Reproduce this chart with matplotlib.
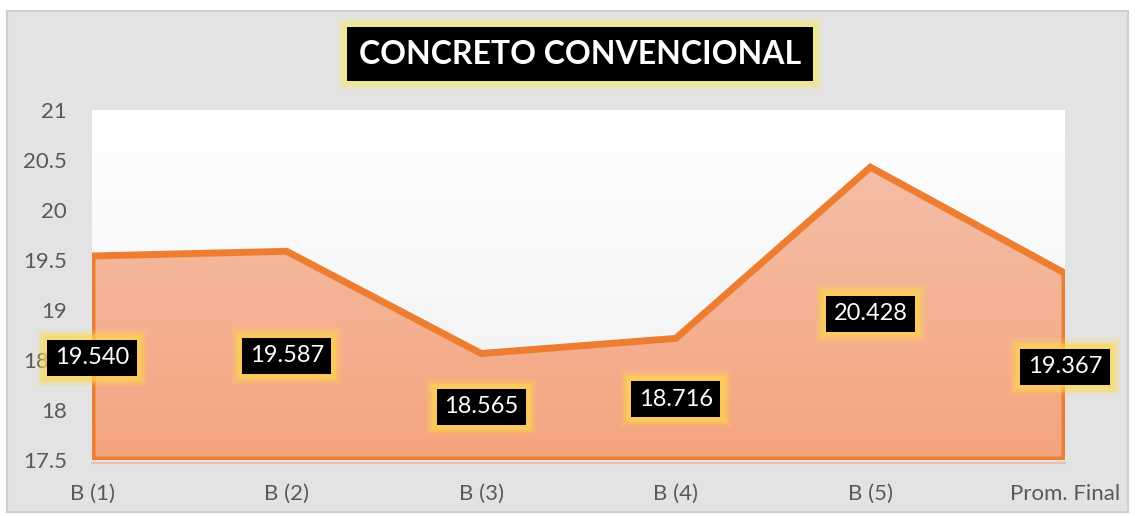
import numpy as np
import matplotlib.pyplot as plt
from matplotlib.patches import Rectangle

# data
categories = ["B (1)", "B (2)", "B (3)", "B (4)", "B (5)", "Prom. Final"]
values = [19.540, 19.587, 18.565, 18.716, 20.428, 19.367]
labels = ["19.540", "19.587", "18.565", "18.716", "20.428", "19.367"]
y_ticks = [17.5, 18, 18.5, 19, 19.5, 20, 20.5, 21]
y_tick_labels = ["17.5", "18", "18.5", "19", "19.5", "20", "20.5", "21"]
title = "CONCRETO CONVENCIONAL"

plt.rcParams['font.family'] = ['Lato', 'DejaVu Sans']

fig = plt.figure(figsize=(11.35, 5.16), dpi=100)
fig.patch.set_facecolor('white')

# chart area (grey stone-like background with thin border)
fig.patches.append(Rectangle((7 / 1135, 4 / 516), 1121 / 1135, 501 / 516,
                             transform=fig.transFigure, facecolor='#e3e3e3',
                             edgecolor='#cfcfcf', linewidth=1.5, zorder=-5))

ax = fig.add_axes([92 / 1135, 1 - 460 / 516, 973 / 1135, 350 / 516])
ymin, ymax = 17.5, 21
x = np.arange(len(categories))

# plot area: white fading to light grey
grad = np.linspace(0, 1, 256).reshape(-1, 1)
ax.imshow(grad, extent=[0, len(categories) - 1, ymin, ymax], aspect='auto',
          cmap=plt.matplotlib.colors.LinearSegmentedColormap.from_list('bg', ['#f0f0f0', '#ffffff']),
          origin='lower', zorder=0)

# area with vertical gradient
poly = ax.fill_between(x, values, ymin, facecolor='none', edgecolor='none', zorder=1)
cmap = plt.matplotlib.colors.LinearSegmentedColormap.from_list('area', ['#f4a47f', '#f5bea6'])
img = ax.imshow(grad, extent=[0, len(categories) - 1, ymin, max(values)], aspect='auto',
                cmap=cmap, origin='lower', zorder=1)
img.set_clip_path(poly.get_paths()[0], transform=ax.transData)
ax.set_xlim(0, len(categories) - 1)
ax.set_ylim(ymin, ymax)

# outline of the area
ox = np.concatenate([[x[0]], x, [x[-1], x[0]]])
oy = np.concatenate([[ymin], values, [ymin, ymin]])
ax.plot(ox, oy, color='#ed7d31', linewidth=5, solid_joinstyle='miter', zorder=2)

# data labels: black boxes with a yellow glow, centred in the area
for xi, v, lab in zip(x, values, labels):
    ym = (v + ymin) / 2
    for pad, a in [(0.75, 0.2), (0.62, 0.3), (0.52, 0.45)]:
        ax.text(xi, ym, lab, fontsize=17, color='none', ha='center', va='center',
                bbox=dict(boxstyle=f'square,pad={pad}', fc='#ffd84a', ec='none', alpha=a),
                zorder=5, clip_on=False)
    ax.text(xi, ym, lab, fontsize=17, color='white', ha='center', va='center',
            bbox=dict(boxstyle='square,pad=0.32', fc='black', ec='none'),
            zorder=6, clip_on=False)

ax.set_xticks(x)
ax.set_xticklabels(categories)
ax.set_yticks(y_ticks)
ax.set_yticklabels(y_tick_labels)
ax.tick_params(axis='x', length=0, pad=15, labelsize=16, labelcolor='#595959')
ax.tick_params(axis='y', length=0, pad=18, labelsize=16, labelcolor='#595959')
for s in ['top', 'left', 'right']:
    ax.spines[s].set_visible(False)
ax.spines['bottom'].set_color('#e8c0a8')
ax.spines['bottom'].set_linewidth(1.5)
ax.spines['bottom'].set_position(('outward', 2))

# title box with glow
for pad, a in [(0.66, 0.25), (0.57, 0.35), (0.49, 0.5)]:
    fig.text(580 / 1135, 1 - 54 / 516, title, fontsize=23, fontweight='bold', color='none',
             ha='center', va='center',
             bbox=dict(boxstyle=f'square,pad={pad}', fc='#f2e878', ec='none', alpha=a))
fig.text(580 / 1135, 1 - 54 / 516, title, fontsize=23, fontweight='bold', color='white',
         ha='center', va='center',
         bbox=dict(boxstyle='square,pad=0.38', fc='black', ec='none'))

fig.savefig('out.png', dpi=100, facecolor=fig.get_facecolor())
